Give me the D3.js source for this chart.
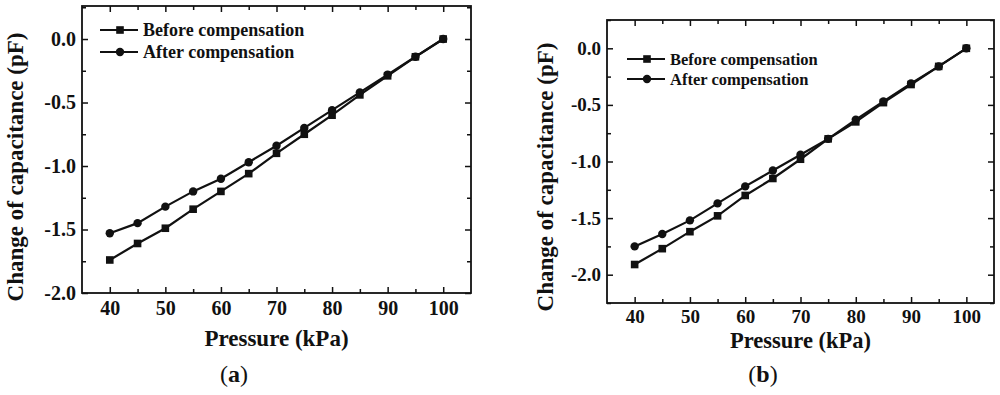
<!DOCTYPE html>
<html>
<head>
<meta charset="utf-8">
<script src="https://cdn.jsdelivr.net/npm/d3@7"></script>
<style>
  body { margin: 0; background: #fff; }
  svg { display: block; }
  text { font-family: "Liberation Serif", "Times New Roman", serif; font-weight: bold; fill: #111; }
</style>
</head>
<body>
<div id="area"></div>
<script>
// x values shared by both panels (kPa)
const pressure = [40, 45, 50, 55, 60, 65, 70, 75, 80, 85, 90, 95, 100]

// panel (a)
const beforeA = [-1.74, -1.61, -1.49, -1.34, -1.20, -1.06, -0.90, -0.75, -0.60, -0.44, -0.29, -0.14, 0.0]
const afterA  = [-1.53, -1.45, -1.32, -1.20, -1.10, -0.97, -0.84, -0.70, -0.56, -0.42, -0.28, -0.14, 0.0]

// panel (b)
const beforeB = [-1.91, -1.77, -1.62, -1.48, -1.30, -1.15, -0.98, -0.80, -0.65, -0.48, -0.32, -0.16, 0.0]
const afterB  = [-1.75, -1.64, -1.52, -1.37, -1.22, -1.08, -0.94, -0.80, -0.63, -0.47, -0.31, -0.16, 0.0]

const xTicks = [40, 50, 60, 70, 80, 90, 100]
const xMinor = [45, 55, 65, 75, 85, 95]
const yTicks = [0.0, -0.5, -1.0, -1.5, -2.0]
const yMinorA = [0.25, -0.25, -0.75, -1.25, -1.75]
const yMinorB = [0.25, -0.25, -0.75, -1.25, -1.75, -2.25]

const legendLabels = ['Before compensation', 'After compensation']
const xTitle = 'Pressure (kPa)'
const yTitle = 'Change of capacitance (pF)'

const svg = d3.select('#area').append('svg')
  .attr('width', 1000).attr('height', 395)

function drawPanel(p) {
  const x = d3.scaleLinear().domain([35, 105]).range([p.left, p.right])
  const y = d3.scaleLinear().domain(p.yDomain).range([p.bottom, p.top])
  const g = svg.append('g')
  const fmt = d => d.toFixed(1)

  // major + minor ticks, all pointing inside the frame
  const put = (axis, tx, ty, labels) => {
    const a = g.append('g').attr('transform', 'translate(' + tx + ',' + ty + ')').call(axis)
    a.select('.domain').remove()
    a.selectAll('line').attr('stroke', '#111').attr('stroke-width', 1.5)
    a.selectAll('text').style('font-size', p.tickFont + 'px')
      .attr('fill', '#111').attr('font-family', null)
    if (!labels) a.selectAll('text').remove()
    return a
  }
  put(d3.axisBottom(x).tickValues(xTicks).tickSize(-6).tickPadding(p.xPad), 0, p.bottom, true)
  put(d3.axisBottom(x).tickValues(xMinor).tickSize(-4).tickFormat(''), 0, p.bottom, false)
  put(d3.axisTop(x).tickValues(xTicks).tickSize(-6), 0, p.top, false)
  put(d3.axisTop(x).tickValues(xMinor).tickSize(-4), 0, p.top, false)
  put(d3.axisLeft(y).tickValues(yTicks).tickSize(-6).tickPadding(6).tickFormat(fmt), p.left, 0, true)
  put(d3.axisLeft(y).tickValues(p.yMinor).tickSize(-4).tickFormat(''), p.left, 0, false)
  put(d3.axisRight(y).tickValues(yTicks).tickSize(-6), p.right, 0, false)
  put(d3.axisRight(y).tickValues(p.yMinor).tickSize(-4), p.right, 0, false)

  g.append('rect')
    .attr('x', p.left).attr('y', p.top)
    .attr('width', p.right - p.left).attr('height', p.bottom - p.top)
    .attr('fill', 'none').attr('stroke', '#111').attr('stroke-width', 1.8)

  const line = d3.line().x((d, i) => x(pressure[i])).y(d => y(d))
  const series = [p.before, p.after]
  series.forEach((s, k) => {
    g.append('path').datum(s).attr('d', line)
      .attr('fill', 'none').attr('stroke', '#111').attr('stroke-width', 2.2)
    drawMarks(g, s.map((d, i) => [x(pressure[i]), y(d)]), k)
  })

  // legend
  legendLabels.forEach((lab, k) => {
    const ly = p.legY + k * p.legGap
    g.append('line').attr('x1', p.legX).attr('x2', p.legX + 38)
      .attr('y1', ly).attr('y2', ly).attr('stroke', '#111').attr('stroke-width', 2.2)
    drawMarks(g, [[p.legX + 20, ly]], k)
    g.append('text').attr('x', p.legX + 43).attr('y', ly)
      .attr('dy', '0.35em').style('font-size', p.legFont + 'px').text(lab)
  })

  g.append('text').attr('x', (p.left + p.right) / 2).attr('y', p.xTitleY)
    .attr('text-anchor', 'middle').style('font-size', p.titleFont + 'px').text(xTitle)

  g.append('text')
    .attr('transform', 'translate(' + p.yTitleX + ',' + p.yTitleY + ') rotate(-90)')
    .attr('text-anchor', 'middle').style('font-size', '23px').text(yTitle)

  const cap = g.append('text').attr('x', p.capX).attr('y', 382)
    .attr('text-anchor', 'middle').style('font-size', '24px')
  cap.append('tspan').style('font-weight', 'normal').text('(')
  cap.append('tspan').text(p.cap)
  cap.append('tspan').style('font-weight', 'normal').text(')')
}

function drawMarks(g, pts, kind) {
  if (kind === 0) {
    g.selectAll(null).data(pts).enter().append('rect')
      .attr('x', d => d[0] - 3.8).attr('y', d => d[1] - 3.8)
      .attr('width', 7.6).attr('height', 7.6).attr('fill', '#111')
  } else {
    g.selectAll(null).data(pts).enter().append('circle')
      .attr('cx', d => d[0]).attr('cy', d => d[1]).attr('r', 4.2).attr('fill', '#111')
  }
}

drawPanel({
  left: 82, right: 471, top: 6, bottom: 293, yDomain: [-2.0, 0.26],
  yMinor: yMinorA, before: beforeA, after: afterA,
  tickFont: 20, xPad: 8, legX: 100, legY: 30, legGap: 22, legFont: 18,
  xTitleY: 346, titleFont: 23,
  yTitleX: 23, yTitleY: 167, capX: 234, cap: 'a'
})

drawPanel({
  left: 607, right: 994, top: 20, bottom: 303, yDomain: [-2.25, 0.25],
  yMinor: yMinorB, before: beforeB, after: afterB,
  tickFont: 19, xPad: 7, legX: 627, legY: 59, legGap: 20, legFont: 16.5,
  xTitleY: 348, titleFont: 22.5,
  yTitleX: 553, yTitleY: 177, capX: 763, cap: 'b'
})
</script>
</body>
</html>
